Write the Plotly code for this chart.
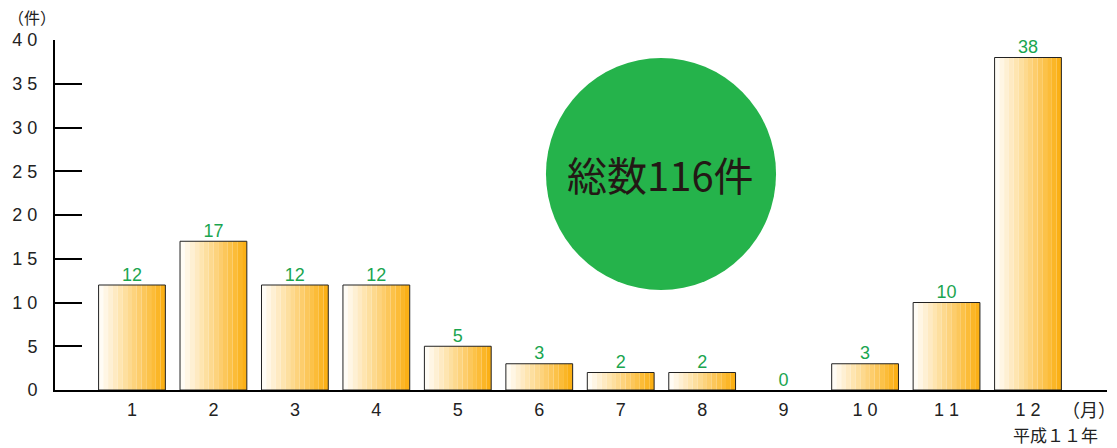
import plotly.graph_objects as go

months = [1, 2, 3, 4, 5, 6, 7, 8, 9, 10, 11, 12]
month_labels = ["1", "2", "3", "4", "5", "6", "7", "8", "9", "1 0", "1 1", "1 2"]
counts = [12, 17, 12, 12, 5, 3, 2, 2, 0, 3, 10, 38]
y_ticks = [0, 5, 10, 15, 20, 25, 30, 35, 40]
y_tick_labels = ["0", "5", "1 0", "1 5", "2 0", "2 5", "3 0", "3 5", "4 0"]
total_text = "総数116件"

FONT = "Liberation Sans, Arial, sans-serif"
JFONT = "Noto Sans CJK JP, sans-serif"
BAR_W = 0.82
N_SLICES = 14
c0 = (255, 252, 245)
c1 = (251, 176, 22)

fig = go.Figure()
for k in range(N_SLICES):
    t = k / (N_SLICES - 1)
    col = "rgb(%d,%d,%d)" % tuple(round(a + (b - a) * t) for a, b in zip(c0, c1))
    fig.add_trace(go.Bar(
        x=months, y=counts, width=BAR_W / N_SLICES,
        offset=-BAR_W / 2 + k * BAR_W / N_SLICES,
        marker=dict(color=col, line=dict(width=0)),
        showlegend=False, hoverinfo="skip"))
# outline
fig.add_trace(go.Bar(
    x=months, y=counts, width=BAR_W, offset=-BAR_W / 2,
    marker=dict(color="rgba(0,0,0,0)",
                line=dict(color="#222", width=[1 if c > 0 else 0 for c in counts])),
    showlegend=False, hoverinfo="skip"))
# value labels
fig.add_trace(go.Scatter(
    x=months, y=counts, mode="text", text=[str(c) for c in counts],
    textposition="top center",
    textfont=dict(family=FONT, size=18, color="#1aa54f"),
    showlegend=False, hoverinfo="skip", cliponaxis=False))

fig.update_layout(
    width=1117, height=448,
    margin=dict(l=55, r=10, t=40, b=58, autoexpand=False),
    plot_bgcolor="white", paper_bgcolor="white",
    barmode="overlay",
    xaxis=dict(range=[0.055, 12.97], tickmode="array", tickvals=months,
               ticktext=month_labels, showgrid=False, zeroline=False,
               showline=True, linecolor="black", linewidth=2, ticks="",
               tickfont=dict(family=FONT, size=18, color="#222"),
               ticklabelstandoff=2, fixedrange=True, automargin=False),
    yaxis=dict(range=[0, 40], tickmode="array", tickvals=y_ticks,
               ticktext=y_tick_labels, showgrid=False, zeroline=False,
               showline=True, linecolor="black", linewidth=2,
               ticks="inside", ticklen=27, tickwidth=2, tickcolor="black",
               tickfont=dict(family=FONT, size=18, color="#222"),
               ticklabelstandoff=12, fixedrange=True, automargin=False),
    shapes=[dict(type="circle", xref="paper", yref="paper",
                 x0=0.4667, x1=0.6854, y0=0.2857, y1=0.9486,
                 fillcolor="#25b34b", line=dict(width=0), layer="above")],
    annotations=[
        dict(text=total_text, xref="paper", yref="paper", x=0.576, y=0.617,
             xanchor="center", yanchor="middle",
             showarrow=False, font=dict(family=JFONT, size=40, color="#231815")),
        dict(text="（件）", xref="paper", yref="paper", x=-0.0219, y=1.066,
             xanchor="center", yanchor="middle",
             showarrow=False, font=dict(family=JFONT, size=16, color="#222")),
        dict(text="（月）", xref="paper", yref="paper", x=0.983, y=-0.054,
             xanchor="center", yanchor="middle",
             showarrow=False, font=dict(family=JFONT, size=18, color="#222")),
        dict(text="平成１１年", xref="paper", yref="paper", x=0.951, y=-0.127,
             xanchor="center", yanchor="middle",
             showarrow=False, font=dict(family=JFONT, size=17, color="#222")),
    ],
)

fig.write_html("out.html", config={"displayModeBar": False},
               post_script="document.body.style.margin='0';document.body.style.padding='0';")
